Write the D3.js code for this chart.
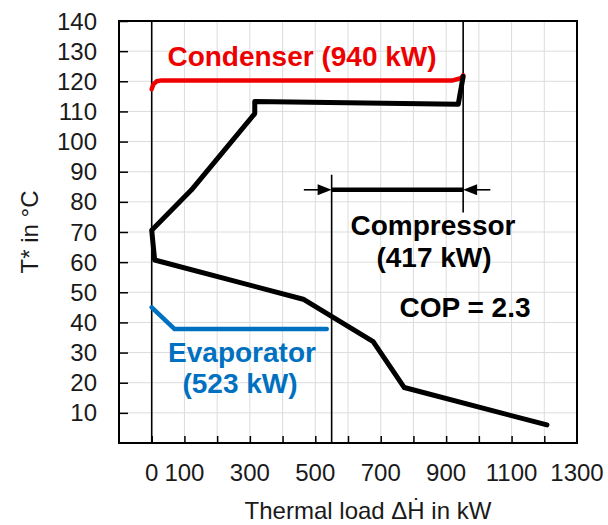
<!DOCTYPE html>
<html>
<head>
<meta charset="utf-8">
<script src="https://cdnjs.cloudflare.com/ajax/libs/d3/7.8.5/d3.min.js"></script>
<style>
    body { margin: 0; background: #fff; }
    svg { display: block; }
    text { font-family: "Liberation Sans", Arial, sans-serif; }
    .grid line { stroke: #dcdcdc; stroke-width: 1; }
    .tick-label { font-size: 24px; fill: #1a1a1a; }
    .note { font-size: 28px; font-weight: bold; }
</style>
</head>
<body>
<div id="graph"></div>
<script>
/*
    Data
*/
// Condenser (red)
var condH = [0, 5, 15, 30, 920, 945, 952],
    condT = [117.4, 119, 120, 120.3, 120.3, 121, 122]

// Heat pump cycle (black)
var cycleH = [952, 937, 315, 315, 121, 0, 9, 463, 677, 772, 1208],
    cycleT = [121.6, 112.4, 113.3, 109.3, 83.9, 70.6, 60.7, 47.7, 33.6, 18.4, 6]

// Evaporator (blue)
var evapH = [0, 70, 535],
    evapT = [45, 37.8, 37.8]

// Compressor span
var compH = [550, 952],
    compT = 84,
    compArrowOut = [465, 1035],
    compLineTop = [89, 140],
    compLineBottom = [0, 76.5]

// Axes
var xTicks = d3.range(0, 1201, 100),
    xTickLabels = [0, 100, 300, 500, 700, 900, 1100, 1300],
    yTicks = d3.range(10, 141, 10),
    xDomain = [-100, 1300],
    yDomain = [0, 140]

/*
    Set the dimensions and margins of the graph
*/
var W = 608, H = 525
var margin = {top: 21, right: 31, bottom: 82, left: 119},
    width = W - margin.left - margin.right,
    height = H - margin.top - margin.bottom

var svg = d3.select("#graph").append("svg")
            .attr("width", W)
            .attr("height", H)

var g = svg.append("g")
           .attr("transform", "translate(" + margin.left + "," + margin.top + ")")

var x = d3.scaleLinear().domain(xDomain).range([0, width]),
    y = d3.scaleLinear().domain(yDomain).range([height, 0])

/*
    Grid
*/
var grid = g.append("g").attr("class", "grid")

grid.selectAll(".gx")
    .data(xTicks)
    .enter().append("line")
    .attr("x1", function(d) { return x(d) })
    .attr("x2", function(d) { return x(d) })
    .attr("y1", 0)
    .attr("y2", height)

grid.selectAll(".gy")
    .data(yTicks)
    .enter().append("line")
    .attr("x1", 0)
    .attr("x2", width)
    .attr("y1", function(d) { return y(d) })
    .attr("y2", function(d) { return y(d) })

/*
    Axes (ticks inside the frame)
*/
var xAxis = g.append("g")
    .attr("transform", "translate(0," + height + ")")
    .call(d3.axisBottom(x).tickValues(xTicks).tickSize(-7).tickFormat(""))

var yAxis = g.append("g")
    .call(d3.axisLeft(y).tickValues(yTicks).tickSize(-9).tickFormat(""))

xAxis.select(".domain").remove()
yAxis.select(".domain").remove()
g.selectAll(".tick line").attr("stroke", "#000").attr("stroke-width", 1.5)

g.selectAll(".xlab")
    .data(xTickLabels)
    .enter().append("text")
    .attr("class", "tick-label")
    .attr("x", function(d) { return x(d) })
    .attr("y", height + 38)
    .attr("text-anchor", "middle")
    .text(function(d) { return d })

g.selectAll(".ylab")
    .data(yTicks)
    .enter().append("text")
    .attr("class", "tick-label")
    .attr("x", -22)
    .attr("y", function(d) { return y(d) + 8.5 })
    .attr("text-anchor", "end")
    .text(function(d) { return d })

// Frame
g.append("rect")
    .attr("width", width)
    .attr("height", height)
    .attr("fill", "none")
    .attr("stroke", "#000")
    .attr("stroke-width", 2)

/*
    Axis titles
*/
svg.append("text")
    .attr("class", "tick-label")
    .attr("x", 368)
    .attr("y", 519)
    .attr("text-anchor", "middle")
    .text("Thermal load \u0394H\u0307 in kW")

svg.append("text")
    .attr("class", "tick-label")
    .attr("transform", "translate(38,232) rotate(-90)")
    .attr("text-anchor", "middle")
    .text("T* in \u00b0C")

/*
    Thin vertical guides
*/
function vline(h, t0, t1) {
    g.append("line")
        .attr("x1", x(h)).attr("x2", x(h))
        .attr("y1", y(t0)).attr("y2", y(t1))
        .attr("stroke", "#000")
        .attr("stroke-width", 1.6)
}
vline(0, 0, 140)
vline(compH[0], compLineTop[0], 0)
vline(compH[1], compLineTop[1], compLineBottom[1])

/*
    Curves
*/
var line = d3.line()
    .x(function(d) { return x(d[0]) })
    .y(function(d) { return y(d[1]) })

function curve(hs, ts, color, w) {
    g.append("path")
        .attr("d", line(d3.zip(hs, ts)))
        .attr("fill", "none")
        .attr("stroke", color)
        .attr("stroke-width", w)
        .attr("stroke-linejoin", "round")
        .attr("stroke-linecap", "round")
}
curve(evapH, evapT, "#0070c0", 4.5)
curve(condH, condT, "#ee0000", 4.5)
curve(cycleH, cycleT, "#000", 5)

/*
    Compressor bar with arrows
*/
g.append("line")
    .attr("x1", x(compH[0])).attr("x2", x(compH[1]))
    .attr("y1", y(compT)).attr("y2", y(compT))
    .attr("stroke", "#000").attr("stroke-width", 4.5)

function arrow(from, to) {
    var x0 = x(from), x1 = x(to), yy = y(compT),
        dir = x1 > x0 ? 1 : -1
    g.append("line")
        .attr("x1", x0).attr("x2", x1 - dir * 12)
        .attr("y1", yy).attr("y2", yy)
        .attr("stroke", "#000").attr("stroke-width", 1.6)
    g.append("path")
        .attr("d", "M" + x1 + "," + yy + "L" + (x1 - dir * 14) + "," + (yy - 5.5) +
                   "L" + (x1 - dir * 14) + "," + (yy + 5.5) + "Z")
        .attr("fill", "#000")
}
arrow(compArrowOut[0], compH[0])
arrow(compArrowOut[1], compH[1])

/*
    Annotations
*/
function note(txt, px, py, color) {
    svg.append("text")
        .attr("class", "note")
        .attr("x", px).attr("y", py)
        .attr("text-anchor", "middle")
        .attr("fill", color)
        .text(txt)
}
note("Condenser (940 kW)", 302, 66, "#ee0000")
note("Compressor", 433, 235, "#000")
note("(417 kW)", 434, 267, "#000")
note("COP = 2.3", 465, 317, "#000")
note("Evaporator", 242, 362, "#0070c0")
note("(523 kW)", 240, 393, "#0070c0")
</script>
</body>
</html>
